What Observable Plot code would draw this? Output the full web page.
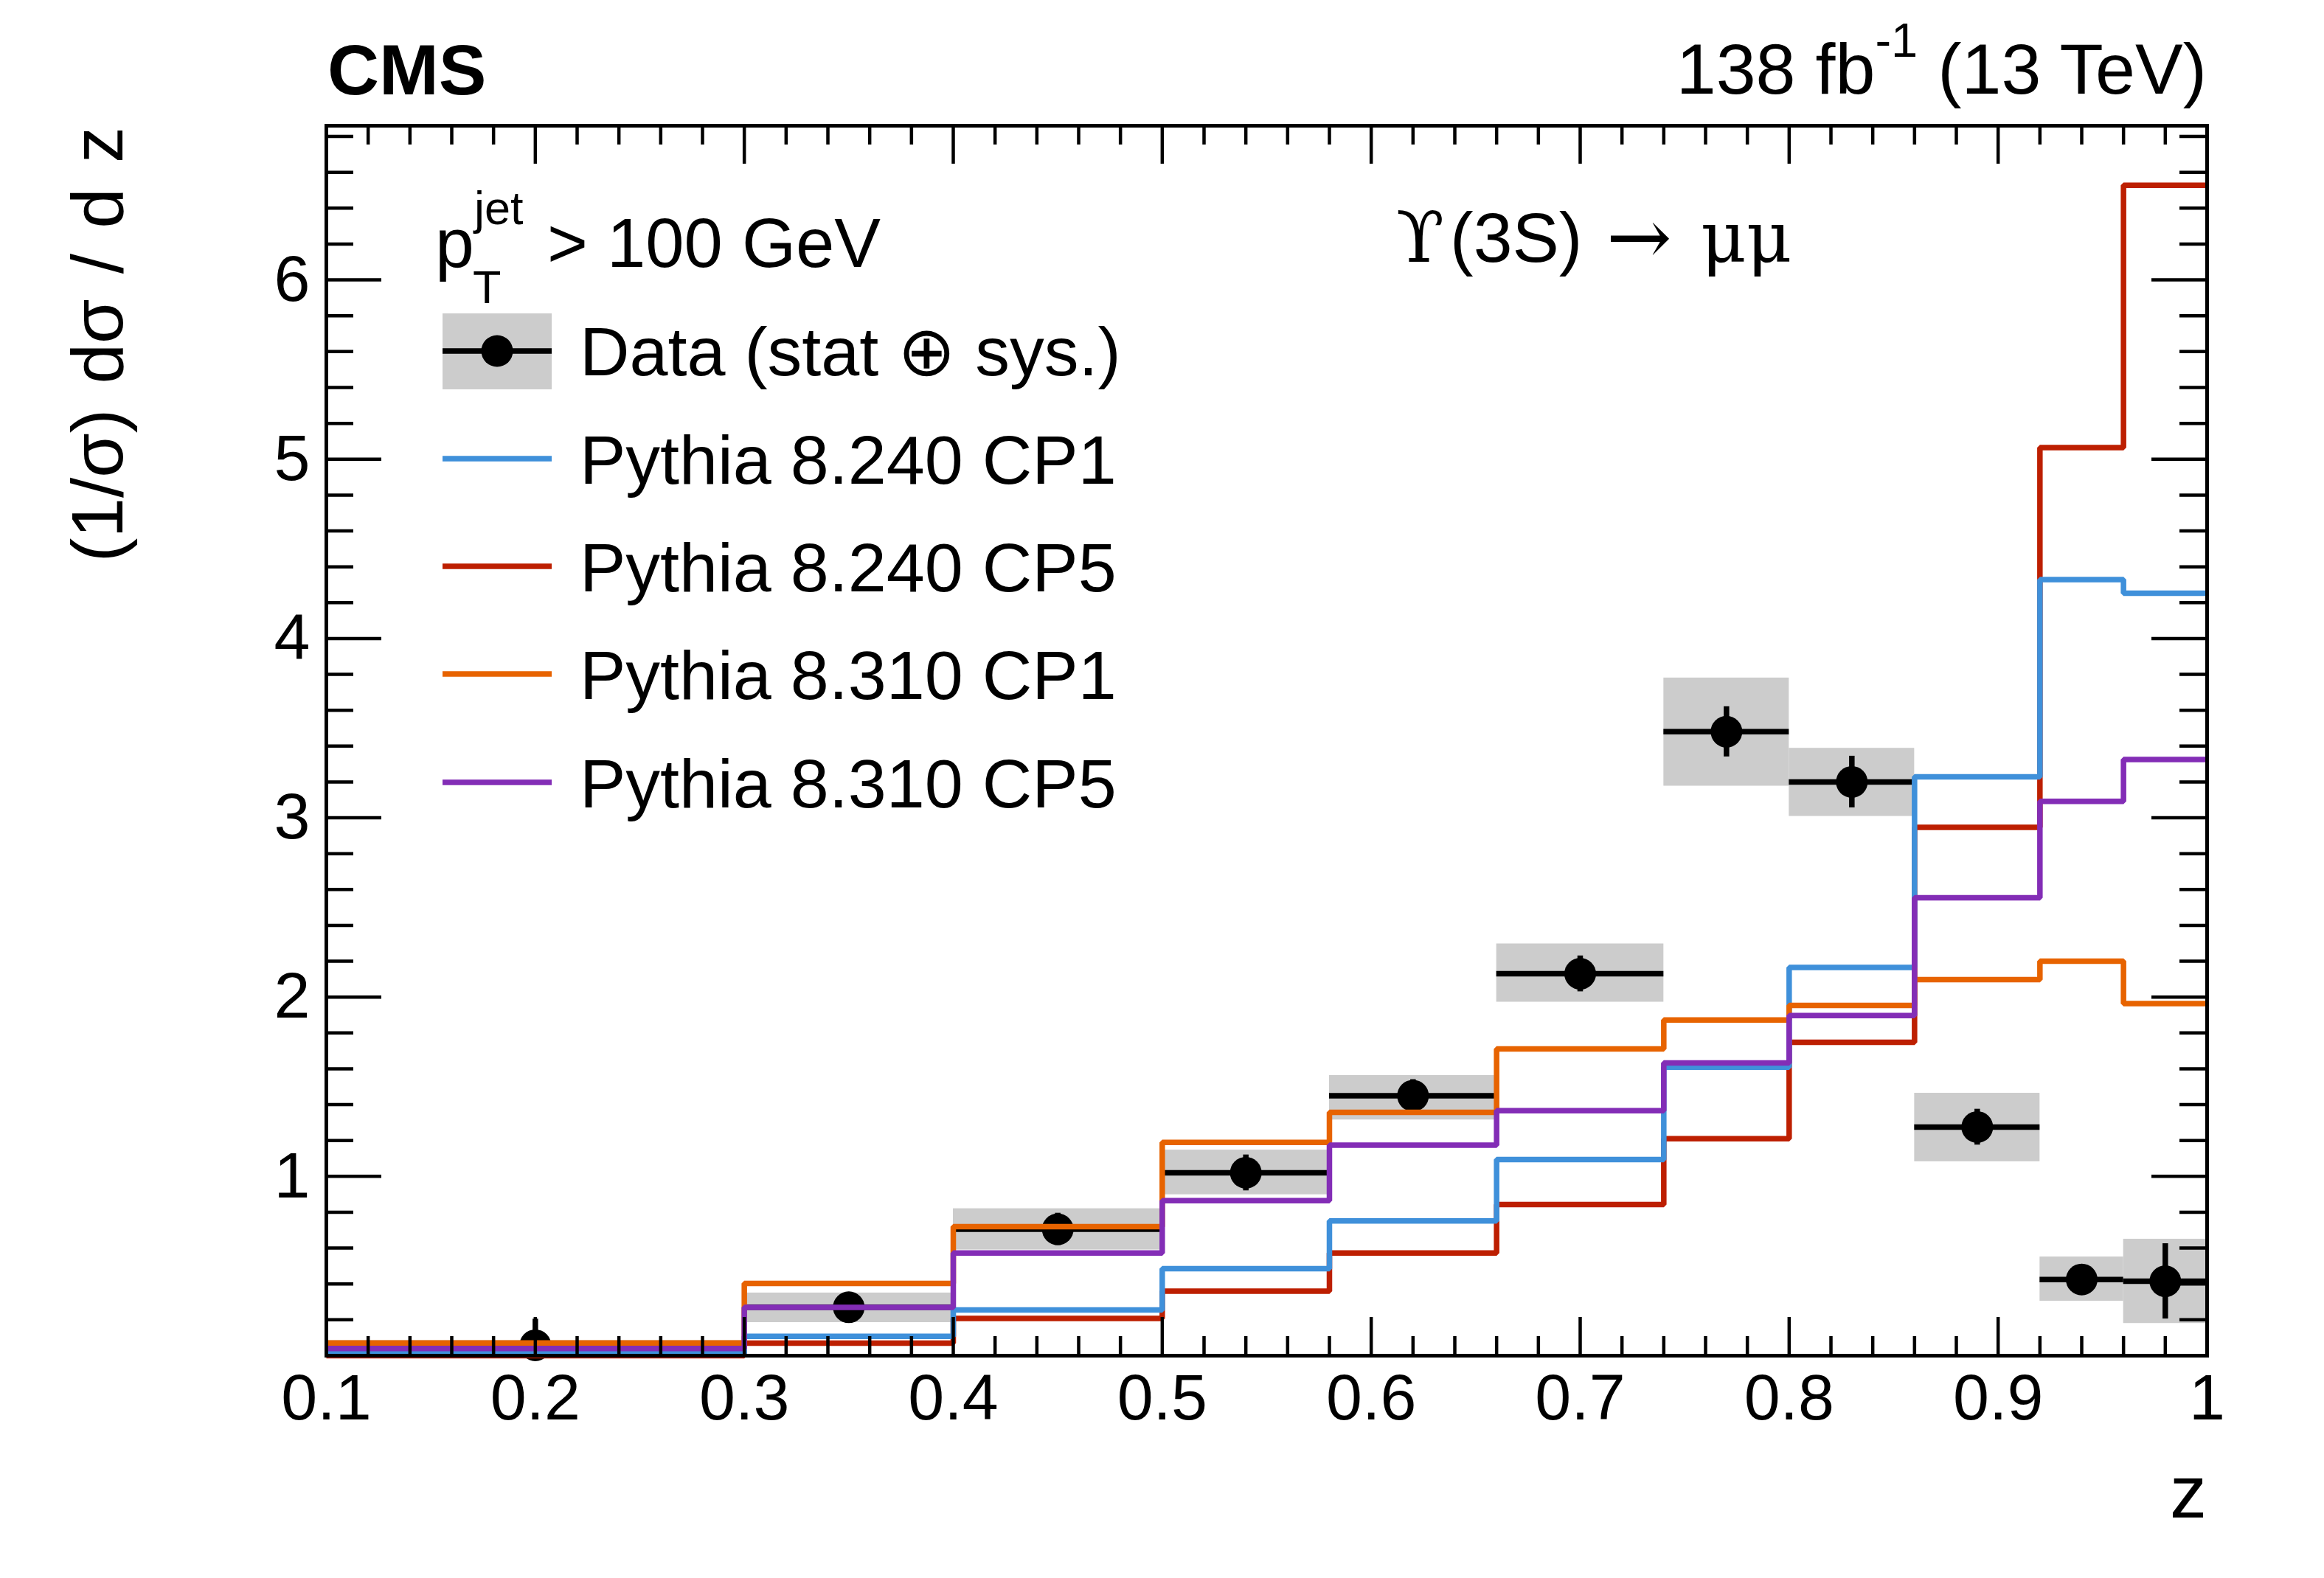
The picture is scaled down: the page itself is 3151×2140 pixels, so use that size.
<!DOCTYPE html>
<html>
<head>
<meta charset="utf-8">
<script src="https://cdn.jsdelivr.net/npm/d3@7"></script>
<script src="https://cdn.jsdelivr.net/npm/@observablehq/plot@0.6"></script>
<style>
  html, body { margin: 0; padding: 0; background: #ffffff; }
  #chart svg { display: block; }
</style>
</head>
<body>
<div id="chart"></div>
<script>
// ---------------- data ----------------
const edges = [0.1, 0.3, 0.4, 0.5, 0.58, 0.66, 0.74, 0.8, 0.86, 0.92, 0.96, 1.0];

const dataVal   = [0.058, 0.27, 0.705, 1.02, 1.45, 2.13, 3.48, 3.20, 1.275, 0.425, 0.415];
const dataStat  = [0.146, 0.06, 0.09, 0.10, 0.09, 0.10, 0.14, 0.144, 0.10, 0.06, 0.21];
const boxLow    = [0.035, 0.185, 0.59, 0.898, 1.315, 1.972, 3.177, 3.008, 1.082, 0.304, 0.18];
const boxHigh   = [0.085, 0.35, 0.82, 1.147, 1.563, 2.297, 3.78, 3.388, 1.464, 0.551, 0.65];

const pythia8240CP1 = [0.012, 0.108, 0.255, 0.485, 0.752, 1.094, 1.609, 2.165, 3.228, 4.329, 4.253];
const pythia8240CP5 = [0.0, 0.07, 0.208, 0.36, 0.573, 0.843, 1.21, 1.748, 2.947, 5.065, 6.528];
const pythia8310CP1 = [0.071, 0.403, 0.72, 1.19, 1.357, 1.711, 1.872, 1.954, 2.097, 2.2, 1.964];
const pythia8310CP5 = [0.04, 0.269, 0.573, 0.865, 1.174, 1.366, 1.633, 1.897, 2.554, 3.092, 3.325];

const seriesNames  = ["Pythia 8.240 CP1", "Pythia 8.240 CP5", "Pythia 8.310 CP1", "Pythia 8.310 CP5"];
const seriesColors = ["#3f90da", "#bd1f01", "#e76300", "#832db6"];
const dataLabel = "Data (stat \u2295 sys.)";

const xTicks = [0.1, 0.2, 0.3, 0.4, 0.5, 0.6, 0.7, 0.8, 0.9, 1.0];
const xTickLabels = ["0.1", "0.2", "0.3", "0.4", "0.5", "0.6", "0.7", "0.8", "0.9", "1"];
const yTicks = [1, 2, 3, 4, 5, 6];
const yTickLabels = ["1", "2", "3", "4", "5", "6"];

// ---------------- layout ----------------
const W = 3151, H = 2140;
const mL = 442, mR = 159, mT = 170, mB = 302;
const plotW = W - mL - mR, plotH = H - mT - mB;
const xMajorLen = 52, xMinorLen = 26, yMajorLen = 75, yMinorLen = 37;
const xMinor = d3.range(5, 51).map(i => i / 50).filter(v => Math.abs(v * 10 - Math.round(v * 10)) > 1e-6);
const yMinor = d3.range(1, 35).map(i => i / 5).filter(v => Math.abs(v - Math.round(v)) > 1e-6);
const yMajor = [0, ...yTicks];

const bins = dataVal.map((v, i) => ({
  lo: edges[i], hi: edges[i + 1], c: (edges[i] + edges[i + 1]) / 2,
  v, s: dataStat[i], b0: boxLow[i], b1: boxHigh[i]
}));
const steps = vals => edges.map((e, i) => ({x: e, y: vals[Math.min(i, vals.length - 1)]}));
const mcSeries = [pythia8240CP1, pythia8240CP5, pythia8310CP1, pythia8310CP5];
const drawOrder = [1, 0, 2, 3];
const LW = 7.5;

const lineOpts = (color) => ({x: "x", y: "y", curve: "step-after", stroke: color, strokeWidth: LW,
  strokeLinejoin: "miter", strokeLinecap: "butt"});

const chart = Plot.plot({
  width: W, height: H,
  marginLeft: mL, marginRight: mR, marginTop: mT, marginBottom: mB,
  style: {fontFamily: "'Liberation Sans', Arial, Helvetica, sans-serif", fontSize: "88px", background: "#ffffff", color: "#000000"},
  x: {domain: [0.1, 1.0]},
  y: {domain: [0, 6.86]},
  marks: [
    Plot.rect(bins, {x1: "lo", x2: "hi", y1: "b0", y2: "b1", fill: "#cccccc"}),
    Plot.ruleY(bins, {y: "v", x1: "lo", x2: "hi", stroke: "#000", strokeWidth: LW}),
    Plot.ruleX(bins, {x: "c", y1: d => Math.max(0, d.v - d.s), y2: d => d.v + d.s, stroke: "#000", strokeWidth: LW}),
    Plot.dot(bins, {x: "c", y: "v", r: 21.5, fill: "#000", stroke: "none"}),
    ...drawOrder.map(k => Plot.line(steps(mcSeries[k]), lineOpts(seriesColors[k]))),
    // ticks (inside the frame, on all four sides)
    Plot.tickX(xTicks, {x: d => d, insetTop: plotH - xMajorLen, stroke: "#000", strokeWidth: 4.5}),
    Plot.tickX(xMinor, {x: d => d, insetTop: plotH - xMinorLen, stroke: "#000", strokeWidth: 4.5}),
    Plot.tickX(xTicks, {x: d => d, insetBottom: plotH - xMajorLen, stroke: "#000", strokeWidth: 4.5}),
    Plot.tickX(xMinor, {x: d => d, insetBottom: plotH - xMinorLen, stroke: "#000", strokeWidth: 4.5}),
    Plot.tickY(yMajor, {y: d => d, insetRight: plotW - yMajorLen, stroke: "#000", strokeWidth: 4.5}),
    Plot.tickY(yMinor, {y: d => d, insetRight: plotW - yMinorLen, stroke: "#000", strokeWidth: 4.5}),
    Plot.tickY(yMajor, {y: d => d, insetLeft: plotW - yMajorLen, stroke: "#000", strokeWidth: 4.5}),
    Plot.tickY(yMinor, {y: d => d, insetLeft: plotW - yMinorLen, stroke: "#000", strokeWidth: 4.5}),
    Plot.axisX(xTicks, {tickSize: 0, tickPadding: 24, label: null, fontSize: 88,
      tickFormat: d => xTickLabels[xTicks.indexOf(d)]}),
    Plot.axisY(yTicks, {tickSize: 0, tickPadding: 22, label: null, fontSize: 88,
      tickFormat: d => yTickLabels[yTicks.indexOf(d)]}),
    Plot.frame({stroke: "#000", strokeWidth: 5})
  ]
});
document.getElementById("chart").appendChild(chart);

// ---------------- annotations & legend ----------------
const svg = d3.select(chart);
const sans = "'Liberation Sans', Arial, Helvetica, sans-serif";
const serif = "'DejaVu Serif', 'Liberation Serif', serif";
const g = svg.append("g").attr("fill", "#000").attr("text-anchor", "start").style("font-family", sans);

g.append("text").attr("x", 444).attr("y", 128).style("font-size", "97px").style("font-weight", "bold").text("CMS");

const lumi = g.append("text").attr("x", 2992).attr("y", 127).attr("text-anchor", "end").style("font-size", "97px");
lumi.append("tspan").text("138 fb");
lumi.append("tspan").attr("dy", -50).style("font-size", "65px").text("-1");
lumi.append("tspan").attr("dy", 50).text(" (13 TeV)");

// y title
g.append("text").attr("transform", "translate(166,172) rotate(-90)").attr("text-anchor", "end")
  .style("font-size", "98px").style("word-spacing", "7px").text("(1/\u03c3) d\u03c3 / d z");
// x title
g.append("text").attr("x", 2992).attr("y", 2058).attr("text-anchor", "end").style("font-size", "100px").text("z");

// pT cut label
g.append("text").attr("x", 590).attr("y", 362).style("font-size", "95px").text("p");
g.append("text").attr("x", 643).attr("y", 304).style("font-size", "63px").text("jet");
g.append("text").attr("x", 641).attr("y", 411).style("font-size", "63px").text("T");
g.append("text").attr("x", 742).attr("y", 362).style("font-size", "94px").text("> 100 GeV");

// process label
const proc = g.append("g").style("font-size", "95px");
proc.append("text").attr("x", 1893).attr("y", 355).style("font-family", serif).text("\u03d2");
proc.append("text").attr("x", 1966).attr("y", 355).text("(3S)");
proc.append("text").attr("x", 2178).attr("y", 358).style("font-family", serif).style("font-size", "106px").text("\u2192");
proc.append("text").attr("x", 2306).attr("y", 355).style("font-family", serif).text("\u03bc\u03bc");

// legend
const legX0 = 600, legX1 = 748, legText = 786;
const rowY = [476, 622, 768, 914, 1061];
const legFont = "93.5px";
const lg = g.append("g");
lg.append("rect").attr("x", legX0).attr("y", rowY[0] - 51).attr("width", legX1 - legX0).attr("height", 103).attr("fill", "#cccccc");
lg.append("line").attr("x1", legX0).attr("x2", legX1).attr("y1", rowY[0]).attr("y2", rowY[0]).attr("stroke", "#000").attr("stroke-width", LW);
lg.append("circle").attr("cx", (legX0 + legX1) / 2).attr("cy", rowY[0]).attr("r", 21.5).attr("fill", "#000");
lg.append("text").attr("x", legText).attr("y", rowY[0] + 33).style("font-size", legFont).text(dataLabel);
seriesNames.forEach((name, i) => {
  const y = rowY[i + 1];
  lg.append("line").attr("x1", legX0).attr("x2", legX1).attr("y1", y).attr("y2", y)
    .attr("stroke", seriesColors[i]).attr("stroke-width", LW);
  lg.append("text").attr("x", legText).attr("y", y + 34).style("font-size", legFont).text(name);
});
</script>
</body>
</html>
